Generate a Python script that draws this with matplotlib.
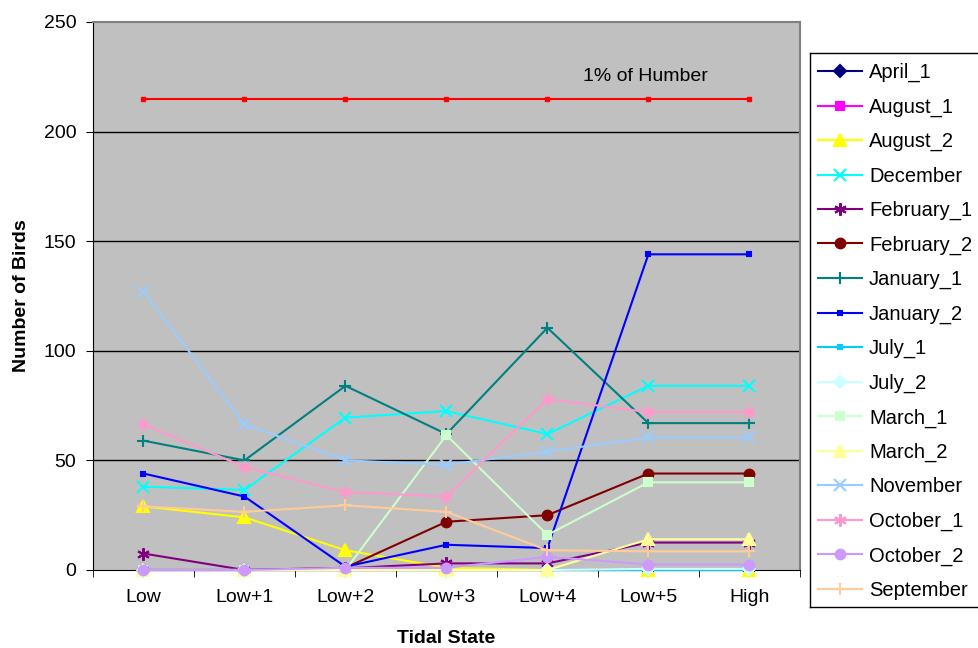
import matplotlib
matplotlib.use("Agg")
import matplotlib.pyplot as plt
from matplotlib.patches import Rectangle
from matplotlib.lines import Line2D
import numpy as np

plt.rcParams['font.family'] = ['Liberation Sans', 'DejaVu Sans']

categories = ["Low", "Low+1", "Low+2", "Low+3", "Low+4", "Low+5", "High"]

april_1 = [0, 0, 0, 0, 0, 0, 0]
august_1 = [0, 0, 0, 0, 0, 0, 0]
august_2 = [29, 24, 9, 1, 0, 0, 0]
december = [38, 36.5, 69.5, 72.5, 62, 84, 84]
february_1 = [7.5, 0, 0.8, 3, 3, 12.5, 12.5]
february_2 = [0, 0, 1, 22, 25, 44, 44]
january_1 = [59, 50, 84, 62, 110.5, 67, 67]
january_2 = [44, 33.5, 1.5, 11.5, 10, 144, 144]
july_1 = [0, 0, 0, 0, 0, 0, 0]
july_2 = [0, 0, 0, 0, 0, 0.5, 0.5]
march_1 = [0, 0, 0, 61.5, 16, 40, 40]
march_2 = [0, 0, 0, 0, 0, 14, 14]
november = [127, 66.5, 50, 48, 54, 60.5, 60.5]
october_1 = [66.5, 47, 35.5, 33.5, 78, 72, 72]
october_2 = [0, 0, 1, 1, 6, 2.5, 2.5]
september = [29, 26.5, 29.5, 26.5, 9, 8.5, 8.5]
humber_1pct = [215, 215, 215, 215, 215, 215, 215]

series = [
    ("April_1", april_1, "#000080", "D", 6),
    ("August_1", august_1, "#FF00FF", "s", 6),
    ("August_2", august_2, "#FFFF00", "^", 8),
    ("December", december, "#00FFFF", "x", 8),
    ("February_1", february_1, "#800080", (6, 2, 0), 9),
    ("February_2", february_2, "#800000", "o", 7),
    ("January_1", january_1, "#008080", "+", 9),
    ("January_2", january_2, "#0000FF", "s", 3),
    ("July_1", july_1, "#00CCFF", "s", 3),
    ("July_2", july_2, "#CCFFFF", "D", 6),
    ("March_1", march_1, "#CCFFCC", "s", 6),
    ("March_2", march_2, "#FFFF99", "^", 8),
    ("November", november, "#99CCFF", "x", 8),
    ("October_1", october_1, "#FF99CC", (6, 2, 0), 9),
    ("October_2", october_2, "#CC99FF", "o", 7),
    ("September", september, "#FFCC99", "+", 9),
]

W, H = 979, 648
fig = plt.figure(figsize=(W / 100, H / 100), dpi=100)
ax = fig.add_axes([0.095, 0.1204, 0.722, 0.8457])
ax.set_facecolor("#C0C0C0")

x = np.arange(len(categories))

for yv in [50, 100, 150, 200]:
    ax.axhline(yv, color="black", lw=1.0, zorder=1)

ax.plot(x, humber_1pct, color="#FF0000", lw=1.5, marker="s", ms=3, zorder=2)
ax.text(4.97, 225, "1% of Humber", ha="center", va="center", fontsize=14)

handles = []
for name, vals, col, mk, ms in series:
    h, = ax.plot(x, vals, color=col, lw=1.5, marker=mk, ms=ms,
                 markeredgewidth=1.5, markerfacecolor=col, markeredgecolor=col,
                 label=name, zorder=3, clip_on=False)
    handles.append(h)

ax.set_xlim(-0.5, 6.5)
ax.set_ylim(0, 250)
ax.set_yticks([0, 50, 100, 150, 200, 250])
ax.set_xticks(x)
ax.set_xticklabels(categories)
ax.set_xticks(np.arange(-0.5, 7, 1), minor=True)
ax.tick_params(axis="x", which="major", length=0, labelsize=14, pad=14)
ax.tick_params(axis="x", which="minor", length=5, direction="out")
ax.tick_params(axis="y", which="major", length=5, direction="out", labelsize=14, pad=7)

for s in ["top", "right"]:
    ax.spines[s].set_color("#808080")
    ax.spines[s].set_linewidth(1.5)
ax.spines["left"].set_color("black")
ax.spines["bottom"].set_color("black")

ax.set_ylabel("Number of Birds", fontsize=14, fontweight="bold", labelpad=10)
ax.set_xlabel("Tidal State", fontsize=14, fontweight="bold", labelpad=17)

# legend frame runs past the right edge of the figure: draw left/top/bottom only
x0, x1 = 810 / W, 1.0
y0, y1 = 1 - 607 / H, 1 - 53 / H
fig.patches.append(Rectangle((x0, y0), x1 - x0, y1 - y0, transform=fig.transFigure,
                             facecolor="white", edgecolor="none", zorder=0))
for xs, ys in [([x0, x0], [y0, y1]), ([x0, x1], [y1, y1]), ([x0, x1], [y0, y0])]:
    fig.lines.append(Line2D(xs, ys, transform=fig.transFigure, color="black", lw=1.0))

leg = fig.legend(handles=handles, loc="upper left", bbox_to_anchor=(818 / W, 1 - 63 / H),
                 fontsize=14.5, frameon=False,
                 handlelength=2.18, labelspacing=0.76, borderpad=0,
                 handletextpad=0.35, borderaxespad=0)

fig.savefig("out.png", dpi=100)
